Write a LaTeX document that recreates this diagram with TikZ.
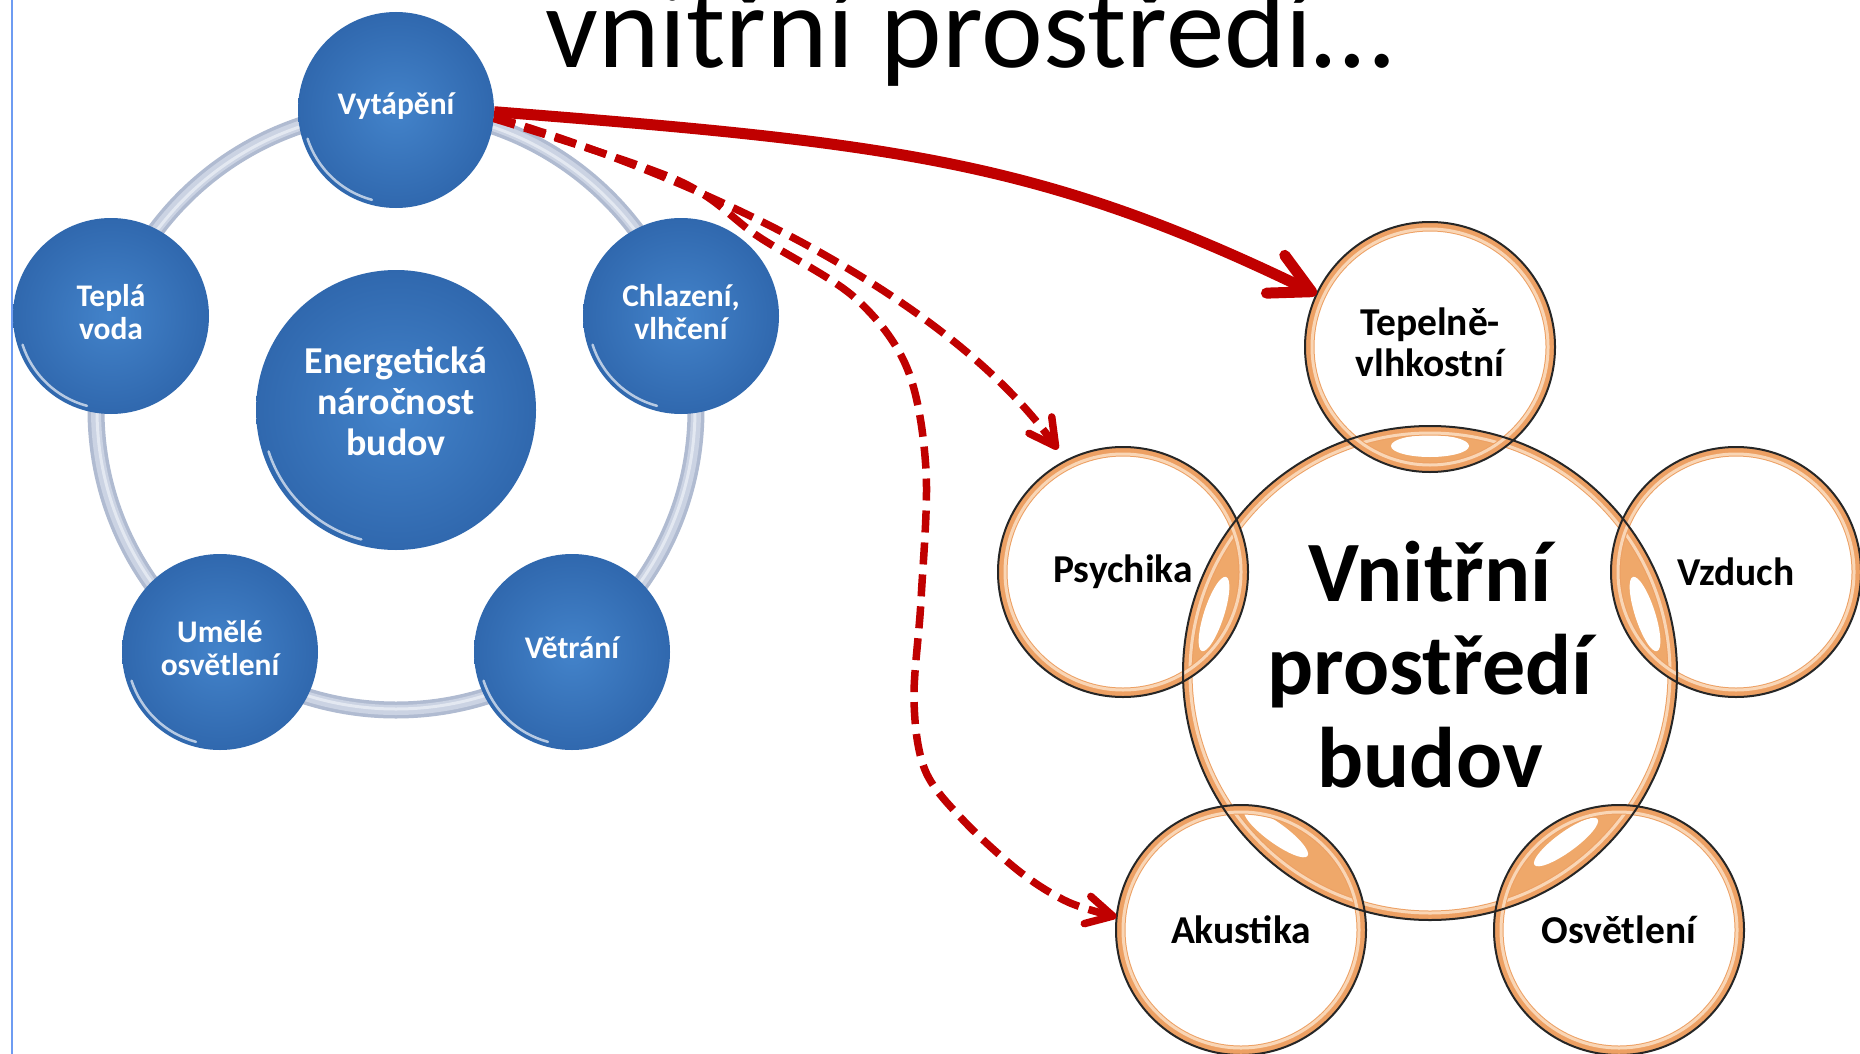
\documentclass[tikz,border=0pt]{standalone}
\usepackage{fontspec}
\setmainfont{Carlito}
\usetikzlibrary{arrows.meta,calc,backgrounds}
\definecolor{bluemid}{HTML}{4383CA}
\definecolor{blueedge}{HTML}{3068AE}
\definecolor{ringgray}{HTML}{B0BBD1}
\definecolor{ringmid}{HTML}{CBD3E3}
\definecolor{ringlight}{HTML}{E3E8F1}
\definecolor{arrowred}{HTML}{C00000}
\definecolor{orangeband}{HTML}{EDA063}
\definecolor{peach}{HTML}{F9D6B6}
\definecolor{lensfill}{HTML}{EFA86A}
\definecolor{guideblue}{HTML}{6E9CF2}
\tikzset{
  bluenode/.style={circle, inner sep=0pt, minimum size=196pt, inner color=bluemid, outer color=blueedge},
  bignode/.style={bluenode, minimum size=280pt},
  bluetext/.style={text=white, font=\bfseries\fontsize{31.5}{33}\selectfont, align=center, inner sep=0pt, yshift=4pt},
  bigtext/.style={bluetext, font=\bfseries\fontsize{38}{41}\selectfont, yshift=5pt},
  ringnode/.style={circle, inner sep=0pt, minimum size=250pt},
  mainring/.style={ringnode, minimum size=494pt},
  ringtext/.style={text=black, font=\bfseries\fontsize{39.5}{41}\selectfont, align=center, inner sep=0pt},
  maintext/.style={ringtext, font=\bfseries\fontsize{86}{93}\selectfont, yshift=8pt},
  titletext/.style={anchor=base west, inner sep=0pt, font=\fontsize{117}{120}\selectfont},
  solidarrow/.style={draw=arrowred, line width=11pt, -{Straight Barb[length=40pt,width=42pt,round]}},
  dasharrow/.style={draw=arrowred, line width=7.5pt, dash pattern=on 22pt off 10pt,
    -{Straight Barb[length=26pt,width=28pt,round]}},
  gloss/.style={white, opacity=0.65, line width=2.5pt, line cap=round},
}
\begin{document}
\begin{tikzpicture}[x=1pt,y=-1pt]
\useasboundingbox (0,0) rectangle (1860,1054);

% title
\node[titletext] (title) at (545,68) {vnitřní prostředí…};

% left: energy cycle
\coordinate (lc) at (396,410);
\node[bluenode, label={[bluetext]center:Vytápění}] (vyt) at (396,110) {};
\node[bluenode, label={[bluetext]center:Teplá\\voda}] (tv)  at (111,316) {};
\node[bluenode, label={[bluetext]center:Chlazení,\\vlhčení}] (chl) at (681,316) {};
\node[bluenode, label={[bluetext]center:Umělé\\osvětlení}] (ume) at (220,652) {};
\node[bluenode, label={[bluetext]center:Větrání}] (vet) at (572,652) {};
\node[bignode, label={[bigtext]center:Energetická\\náročnost\\budov}] (ene) at (396,410) {};

\foreach \n/\r in {vyt/93,tv/93,chl/93,ume/93,vet/93,ene/134}{
  \draw[gloss] ($(\n.center)+(198:\r pt)$) arc[start angle=198, end angle=255, radius=\r pt];
}

% right: indoor environment
\node[mainring, label={[maintext]center:Vnitřní\\prostředí\\budov}] (vni) at (1430,673) {};
\node[ringnode, label={[ringtext, yshift=5pt]center:Tepelně-\\vlhkostní}] (tep) at (1430,347) {};
\node[ringnode, label={[ringtext]center:Psychika}] (psy) at (1123,572) {};
\node[ringnode, label={[ringtext]center:Vzduch}] (vzd) at (1736,572) {};
\node[ringnode, label={[ringtext]center:Akustika}] (aku) at (1241,930) {};
\node[ringnode, label={[ringtext]center:Osvětlení}] (osv) at (1619,930) {};

\begin{scope}[on background layer]
  \fill[white] (0,0) rectangle (1860,1054);
  \draw[guideblue, line width=2.5pt] (12,0) -- (12,1054);
  % grey cycle ring
  \draw[ringgray, line width=17pt] (lc) circle (300pt);
  \draw[ringmid, line width=10pt] (lc) circle (300pt);
  \draw[ringlight, line width=3pt] (lc) circle (299pt);
  % lenses
  \foreach \s in {tep,psy,vzd,aku,osv}{
    \begin{scope}
      \clip (\s.center) circle (125pt);
      \fill[lensfill] (vni.center) circle (247pt);
    \end{scope}
  }
  \fill[white] (1430,446) ellipse (39pt and 11pt);
  \fill[white, rotate around={72:(1214,614)}] (1214,614) ellipse (39pt and 10pt);
  \fill[white, rotate around={108:(1645,614)}] (1645,614) ellipse (39pt and 10pt);
  \fill[white, rotate around={144:(1276,833)}] (1276,833) ellipse (39pt and 10pt);
  \fill[white, rotate around={36:(1566,842)}] (1566,842) ellipse (39pt and 10pt);
  % orange rings
  \foreach \n/\ra/\rb in {vni/242/240, tep/120/118, psy/120/118, vzd/120/118, aku/120/118, osv/120/118}{
    \draw[orangeband, line width=9pt] (\n.center) circle (\ra pt);
    \draw[peach, line width=3pt] (\n.center) circle (\rb pt);
  }
  \foreach \n/\r in {vni/247, tep/125, psy/125, vzd/125, aku/125, osv/125}{
    \draw[black!85, line width=2pt] (\n.center) circle (\r pt);
  }
\end{scope}

% connectors
\draw[dasharrow] plot[smooth, tension=0.55] coordinates {(vyt.-5) (677,180) (759,237) (854,297) (907,368) (926,470) (921,600) (914,700) (925,770) (963,820) (1020,872) (1068,902) (aku.174)};
\draw[dasharrow] (vyt.-4) .. controls (743,192) and (959,312) .. ($(psy.center)+(118:139pt)$);
\draw[solidarrow] (vyt.-1) .. controls (893,143) and (1040,160) .. (tep.155);

\end{tikzpicture}
\end{document}
